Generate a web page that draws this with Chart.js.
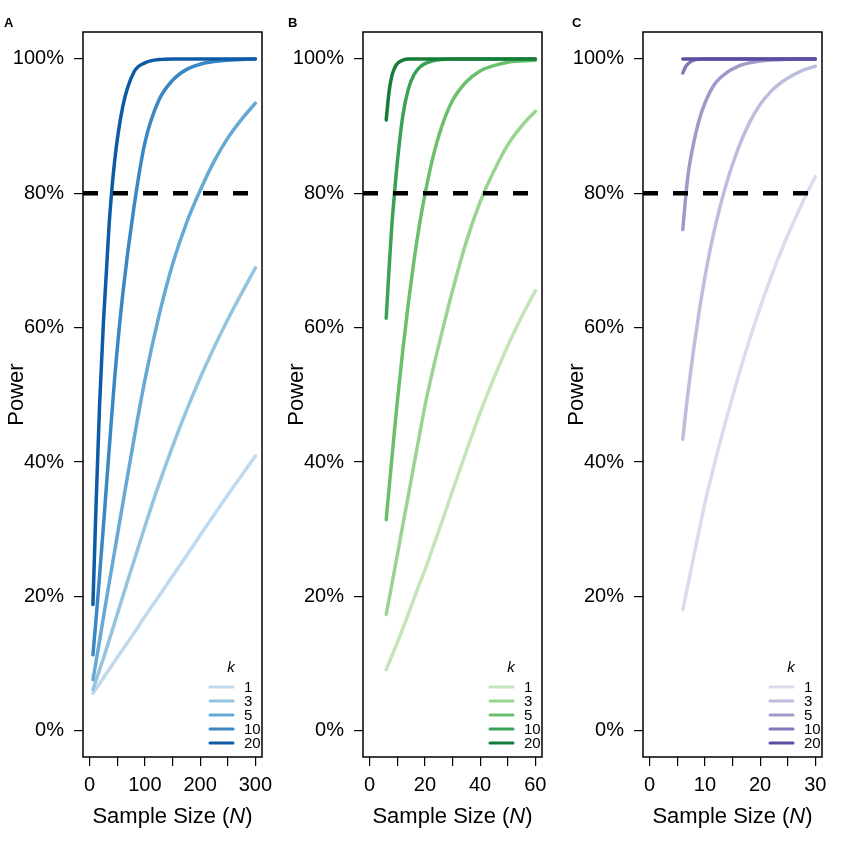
<!DOCTYPE html>
<html>
<head>
<meta charset="utf-8">
<script src="https://cdn.jsdelivr.net/npm/chart.js@4.4.1/dist/chart.umd.min.js"></script>
<style>
  body { margin: 0; background: #fff; }
  #wrap { display: flex; width: 841px; height: 841px; }
  canvas { display: block; }
</style>
</head>
<body>
<div id="wrap">
  <canvas id="panelA" width="280" height="841"></canvas>
  <canvas id="panelB" width="280" height="841"></canvas>
  <canvas id="panelC" width="281" height="841"></canvas>
</div>
<script>
// k values shared by all three panels
const kValues = [1, 3, 5, 10, 20];
const targetPower = 80;
const yTicks = [0, 20, 40, 60, 80, 100];

// Panel A
const nA = [6, 12, 18, 25, 35, 45, 60, 80, 100, 125, 150, 175, 200, 225, 250, 275, 300];
const powerA = [
  [5.6, 6.3, 7.0, 7.9, 9.1, 10.3, 12.1, 14.5, 17.0, 20.0, 23.0, 26.0, 29.1, 32.1, 35.1, 38.0, 40.9],
  [6.1, 7.6, 9.1, 10.8, 13.4, 16.0, 20.0, 25.2, 30.4, 36.6, 42.3, 47.6, 52.5, 57.0, 61.2, 65.1, 68.9],
  [7.6, 10.5, 13.4, 16.9, 21.8, 26.6, 33.8, 43.3, 52.2, 61.6, 69.4, 75.5, 80.4, 84.7, 88.2, 91.0, 93.4],
  [11.3, 17.0, 23.1, 30.5, 41.5, 52.2, 65.0, 77.8, 87.5, 93.8, 96.8, 98.4, 99.2, 99.6, 99.8, 99.9, 100],
  [18.8, 34.5, 48.5, 60.8, 75.0, 84.6, 92.9, 98.0, 99.4, 99.9, 100, 100, 100, 100, 100, 100, 100]
];
const xTicksA = [0, 50, 100, 150, 200, 250, 300];
const xLabelsA = [0, 100, 200, 300];

// Panel B
const nB = [6, 7, 8, 9, 10, 12, 14, 16, 18, 20, 23, 26, 30, 35, 40, 45, 50, 55, 60];
const powerB = [
  [9.1, 10.1, 11.1, 12.1, 13.1, 15.2, 17.4, 19.6, 21.8, 23.9, 27.4, 30.9, 35.7, 41.6, 47.3, 52.5, 57.3, 61.6, 65.5],
  [17.3, 19.5, 21.7, 23.9, 26.1, 30.6, 35.0, 39.5, 43.9, 48.3, 53.9, 59.0, 65.5, 72.8, 78.7, 83.3, 87.2, 90.0, 92.2],
  [31.4, 35.9, 40.3, 44.7, 48.9, 56.6, 63.6, 69.8, 75.2, 79.8, 85.5, 89.8, 93.8, 96.6, 98.2, 99.0, 99.5, 99.7, 99.8],
  [61.4, 68.5, 75.0, 80.0, 84.5, 91.5, 95.5, 97.6, 98.7, 99.3, 99.7, 99.9, 100, 100, 100, 100, 100, 100, 100],
  [90.9, 95.0, 97.4, 98.6, 99.3, 99.8, 100, 100, 100, 100, 100, 100, 100, 100, 100, 100, 100, 100, 100]
];
const xTicksB = [0, 10, 20, 30, 40, 50, 60];
const xLabelsB = [0, 20, 40, 60];

// Panel C
const nC = [6, 6.5, 7, 8, 9, 10, 11, 12, 14, 16, 18, 20, 22, 24, 26, 28, 30];
const powerC = [
  [18.0, 20.0, 22.0, 26.0, 30.0, 33.9, 37.3, 40.6, 46.8, 52.6, 58.0, 63.0, 67.6, 71.8, 75.6, 79.2, 82.5],
  [43.4, 47.2, 50.7, 57.0, 62.6, 67.5, 71.8, 75.5, 81.7, 86.6, 90.4, 93.2, 95.2, 96.6, 97.6, 98.4, 98.9],
  [74.6, 79.2, 83.0, 87.6, 91.0, 93.4, 95.2, 96.5, 98.0, 98.9, 99.4, 99.7, 99.85, 99.9, 99.95, 100, 100],
  [97.9, 98.8, 99.3, 99.8, 99.95, 100, 100, 100, 100, 100, 100, 100, 100, 100, 100, 100, 100],
  [100, 100, 100, 100, 100, 100, 100, 100, 100, 100, 100, 100, 100, 100, 100, 100, 100]
];
const xTicksC = [0, 5, 10, 15, 20, 25, 30];
const xLabelsC = [0, 10, 20, 30];

const bluesA = ['#c0d9ed', '#95c4e0', '#66a9d4', '#3a87c3', '#0d5ba5'];
const greensB = ['#c2e6ba', '#99d590', '#6cbf6c', '#3aa156', '#157c3a'];
const purplesC = ['#dcdbed', '#bdbddd', '#9e9bca', '#8279bb', '#5e4ca3'];

const FONT = '"Liberation Sans", Arial, Helvetica, sans-serif';
Chart.defaults.font.family = FONT;
Chart.defaults.color = '#000';

// box, panel letter, x title with italic N, and the k legend
const panelDecor = {
  id: 'panelDecor',
  afterDraw(chart, args, opts) {
    const ctx = chart.ctx;
    const a = chart.chartArea;
    ctx.save();
    ctx.strokeStyle = '#000';
    ctx.lineWidth = 1.5;
    ctx.strokeRect(a.left, a.top, a.right - a.left, a.bottom - a.top);

    ctx.fillStyle = '#000';
    ctx.textAlign = 'left';
    ctx.textBaseline = 'alphabetic';
    ctx.font = 'bold 13px ' + FONT;
    ctx.fillText(opts.letter, opts.letterX, 27);

    // x axis title
    const parts = [['Sample Size (', ''], ['N', 'italic '], [')', '']];
    let total = 0;
    parts.forEach(p => { ctx.font = p[1] + '22px ' + FONT; total += ctx.measureText(p[0]).width; });
    let x = (a.left + a.right) / 2 - total / 2;
    parts.forEach(p => {
      ctx.font = p[1] + '22px ' + FONT;
      ctx.fillText(p[0], x, 823);
      x += ctx.measureText(p[0]).width;
    });

    // legend
    const ds = chart.data.datasets.filter(d => d.isCurve);
    ctx.textBaseline = 'middle';
    ctx.font = 'italic 15px ' + FONT;
    ctx.textAlign = 'center';
    ctx.fillText('k', a.right - 31, a.bottom - 89);
    ctx.textAlign = 'left';
    ctx.font = '15px ' + FONT;
    ctx.lineCap = 'round';
    ctx.lineWidth = 3;
    ds.forEach((d, i) => {
      const y = a.bottom - 70 + i * 14;
      ctx.strokeStyle = d.borderColor;
      ctx.beginPath();
      ctx.moveTo(a.right - 52, y);
      ctx.lineTo(a.right - 29, y);
      ctx.stroke();
      ctx.fillText(d.label, a.right - 18, y + 1);
    });
    ctx.restore();
  }
};

function makePanel(id, ns, powers, colors, xMin, xMax, xTicks, xLabels, letter, letterX, rightPad) {
  const datasets = powers.map((p, i) => ({
    label: String(kValues[i]),
    isCurve: true,
    data: ns.map((n, j) => ({ x: n, y: p[j] })),
    borderColor: colors[i],
    borderWidth: 3.5,
    borderCapStyle: 'round',
    pointRadius: 0,
    cubicInterpolationMode: 'monotone',
    order: kValues.length - i + 1
  }));
  datasets.push({
    label: 'target',
    data: [{ x: xMin, y: targetPower }, { x: xMax, y: targetPower }],
    borderColor: '#000',
    borderWidth: 4.5,
    borderDash: [15, 15],
    pointRadius: 0,
    order: 0
  });

  return new Chart(document.getElementById(id), {
    type: 'line',
    data: { datasets: datasets },
    options: {
      responsive: false,
      animation: false,
      devicePixelRatio: 1,
      layout: { padding: { left: 0, right: rightPad, top: 32, bottom: 0 } },
      plugins: {
        legend: { display: false },
        tooltip: { enabled: false },
        panelDecor: { letter: letter, letterX: letterX }
      },
      scales: {
        x: {
          type: 'linear',
          min: xMin,
          max: xMax,
          afterBuildTicks: s => { s.ticks = xTicks.map(v => ({ value: v })); },
          afterFit: s => { s.height = 84; },
          grid: { drawOnChartArea: false, drawTicks: true, tickLength: 9, color: '#000', lineWidth: 1.2 },
          border: { display: false },
          ticks: {
            autoSkip: false,
            maxRotation: 0,
            padding: 7,
            font: { size: 20 },
            callback: v => xLabels.includes(v) ? String(v) : ''
          }
        },
        y: {
          min: -3.9,
          max: 104,
          afterBuildTicks: s => { s.ticks = yTicks.map(v => ({ value: v })); },
          afterFit: s => { s.width = 83; },
          grid: { drawOnChartArea: false, drawTicks: true, tickLength: 9, color: '#000', lineWidth: 1.2 },
          border: { display: false },
          ticks: {
            padding: 10,
            font: { size: 20 },
            callback: v => v + '%'
          },
          title: {
            display: true,
            text: 'Power',
            font: { size: 22 },
            padding: { top: 4, bottom: 0 }
          }
        }
      }
    },
    plugins: [panelDecor]
  });
}

makePanel('panelA', nA, powerA, bluesA, -12, 312, xTicksA, xLabelsA, 'A', 4, 18);
makePanel('panelB', nB, powerB, greensB, -2.4, 62.4, xTicksB, xLabelsB, 'B', 8, 18);
makePanel('panelC', nC, powerC, purplesC, -1.2, 31.2, xTicksC, xLabelsC, 'C', 12, 19);
</script>
</body>
</html>
